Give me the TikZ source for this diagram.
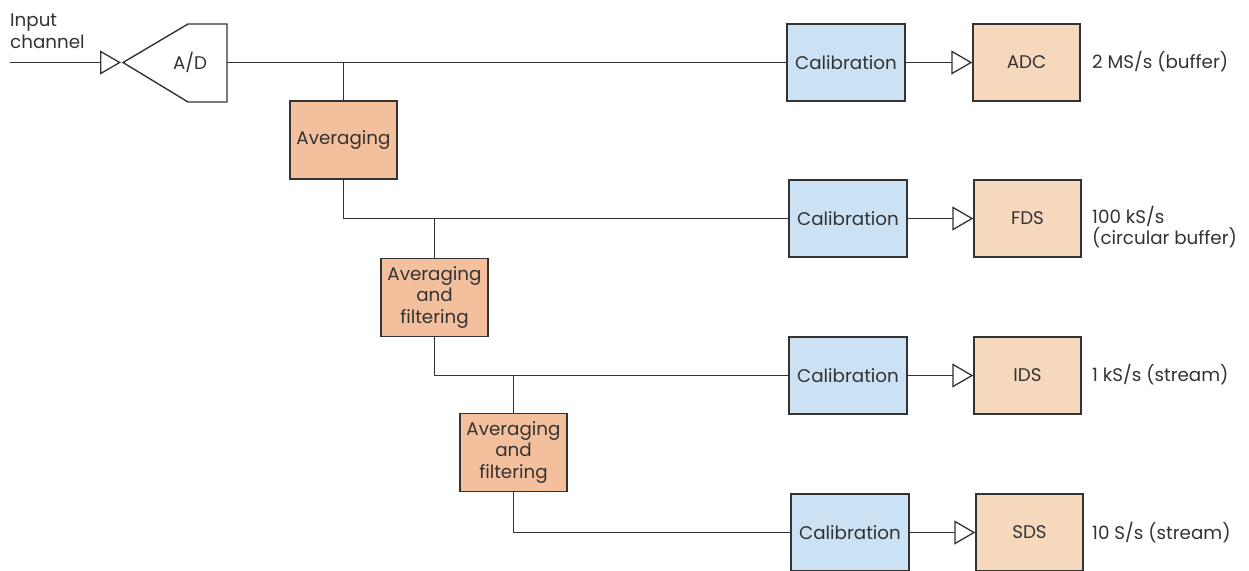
\documentclass[tikz,border=0pt]{standalone}
\usepackage{fontspec}
\setmainfont{Poppins}
\usetikzlibrary{arrows.meta}
\definecolor{calfill}{HTML}{CBE1F4}
\definecolor{outfill}{HTML}{F6D8BD}
\definecolor{avgfill}{HTML}{F4BF9C}
\definecolor{ink}{HTML}{333333}
\begin{document}
\begin{tikzpicture}[x=1pt,y=-1pt,
  every node/.style={text=ink,font=\fontsize{18.3}{21.5}\selectfont},
  wire/.style={draw=ink,line width=1.4pt},
  tri/.style={-{Triangle[open,length=21pt,width=24pt,line width=1.3pt]}},
  calbox/.style={draw=ink,line width=1.4pt,fill=calfill,minimum width=118pt,minimum height=77pt,inner sep=0pt},
  outbox/.style={draw=ink,line width=1.4pt,fill=outfill,minimum width=107pt,minimum height=77pt,inner sep=0pt},
  avgbox/.style={draw=ink,line width=1.4pt,fill=avgfill,minimum width=107pt,minimum height=78pt,inner sep=0pt,align=center},
  rate/.style={anchor=west,inner sep=0pt,align=left}]
\useasboundingbox (0,0) rectangle (1249,570);
% input and A/D
\coordinate (in) at (10,62.5);
\coordinate (adtip) at (123,62.5);
\coordinate (adout) at (227,62.5);
\draw[wire,line join=miter] (adtip) -- (188,24) -- (227,24) -- (227,102) -- (188,102) -- cycle;
\node (ad) at (190,62) {A/D};
\node[anchor=west,inner sep=0pt,align=left] (inlabel) at (10,31) {Input\\channel};
% boxes
\node[calbox] (cal1) at (846,62.5) {Calibration};
\node[outbox] (adc) at (1026.5,62.5) {ADC};
\node[calbox] (cal2) at (848,218.5) {Calibration};
\node[outbox] (fds) at (1027.5,218.5) {FDS};
\node[calbox] (cal3) at (848,375.5) {Calibration};
\node[outbox] (ids) at (1027.5,375.5) {IDS};
\node[calbox] (cal4) at (850,532.5) {Calibration};
\node[outbox] (sds) at (1029.5,532.5) {SDS};
\node[avgbox] (avg1) at (343.5,140) {Averaging};
\node[avgbox] (avg2) at (434.5,297.5) {Averaging\\and\\filtering};
\node[avgbox] (avg3) at (513.5,452.5) {Averaging\\and\\filtering};
% rate labels
\node[rate] (r1) at (1092,62) {2 MS/s (buffer)};
\node[rate,anchor=north west] (r2) at (1092,206) {100 kS/s\\(circular buffer)};
\node[rate] (r3) at (1092,375) {1 kS/s (stream)};
\node[rate] (r4) at (1092,533) {10 S/s (stream)};
% connectors
\draw[wire,tri,shorten >=2pt] (in) -- (adtip);
\draw[wire] (adout) -- (cal1.west);
\draw[wire] (avg1.north) -- (avg1.north |- adout);
\draw[wire] (avg1.south) |- (cal2.west);
\draw[wire] (avg2.north) -- (avg2.north |- cal2.west);
\draw[wire] (avg2.south) |- (cal3.west);
\draw[wire] (avg3.north) -- (avg3.north |- cal3.west);
\draw[wire] (avg3.south) |- (cal4.west);
\draw[wire,tri] (cal1) -- (adc);
\draw[wire,tri] (cal2) -- (fds);
\draw[wire,tri] (cal3) -- (ids);
\draw[wire,tri] (cal4) -- (sds);
\end{tikzpicture}
\end{document}
